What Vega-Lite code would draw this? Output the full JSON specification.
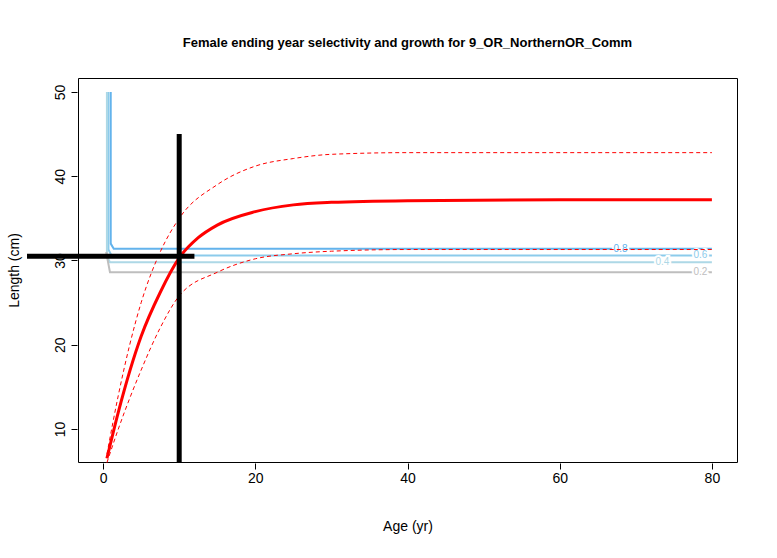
{
  "$schema": "https://vega.github.io/schema/vega-lite/v6.json",
  "width": 659,
  "height": 384,
  "autosize": "none",
  "padding": {"left": 78, "top": 78, "right": 40, "bottom": 96},
  "background": "white",
  "view": {"stroke": "black", "strokeWidth": 1},
  "config": {"font": "Liberation Sans"},
  "title": {"text": "Female ending year selectivity and growth for 9_OR_NorthernOR_Comm", "fontSize": 13, "fontWeight": "bold", "offset": 28, "anchor": "middle"},
  "datasets": {
    "growth": [
      {"age": 0.5, "len": 6.5, "s": "mid"}, {"age": 2, "len": 12, "s": "mid"}, {"age": 5, "len": 21, "s": "mid"},
      {"age": 7.5, "len": 26.2, "s": "mid"}, {"age": 10, "len": 30.3, "s": "mid"}, {"age": 12.5, "len": 32.7, "s": "mid"}, {"age": 15, "len": 34.2, "s": "mid"},
      {"age": 20, "len": 35.8, "s": "mid"}, {"age": 25, "len": 36.6, "s": "mid"}, {"age": 30, "len": 36.9, "s": "mid"},
      {"age": 40, "len": 37.1, "s": "mid"}, {"age": 60, "len": 37.2, "s": "mid"}, {"age": 80, "len": 37.2, "s": "mid"},
      {"age": 0.5, "len": 7, "s": "upper"}, {"age": 2, "len": 14, "s": "upper"}, {"age": 5, "len": 25, "s": "upper"},
      {"age": 7.5, "len": 31, "s": "upper"}, {"age": 10, "len": 35, "s": "upper"}, {"age": 15, "len": 39, "s": "upper"},
      {"age": 20, "len": 41.2, "s": "upper"}, {"age": 25, "len": 42.1, "s": "upper"}, {"age": 30, "len": 42.6, "s": "upper"},
      {"age": 40, "len": 42.8, "s": "upper"}, {"age": 80, "len": 42.8, "s": "upper"},
      {"age": 0.5, "len": 6, "s": "lower"}, {"age": 2, "len": 10, "s": "lower"}, {"age": 5, "len": 17, "s": "lower"},
      {"age": 7.5, "len": 22, "s": "lower"}, {"age": 10, "len": 25.8, "s": "lower"}, {"age": 15, "len": 28.6, "s": "lower"},
      {"age": 20, "len": 30.2, "s": "lower"}, {"age": 25, "len": 30.8, "s": "lower"}, {"age": 30, "len": 31.1, "s": "lower"},
      {"age": 40, "len": 31.3, "s": "lower"}, {"age": 80, "len": 31.3, "s": "lower"}
    ],
    "contours": [
      {"age": 1, "len": 50, "lvl": "0.8", "o": 1}, {"age": 1, "len": 32, "lvl": "0.8", "o": 2}, {"age": 1.4, "len": 31.4, "lvl": "0.8", "o": 3}, {"age": 80, "len": 31.4, "lvl": "0.8", "o": 4},
      {"age": 0.7, "len": 50, "lvl": "0.6", "o": 1}, {"age": 0.7, "len": 31.3, "lvl": "0.6", "o": 2}, {"age": 1.1, "len": 30.6, "lvl": "0.6", "o": 3}, {"age": 80, "len": 30.6, "lvl": "0.6", "o": 4},
      {"age": 0.5, "len": 50, "lvl": "0.4", "o": 1}, {"age": 0.5, "len": 30.5, "lvl": "0.4", "o": 2}, {"age": 0.9, "len": 29.8, "lvl": "0.4", "o": 3}, {"age": 80, "len": 29.8, "lvl": "0.4", "o": 4},
      {"age": 0.4, "len": 31, "lvl": "0.2", "o": 1}, {"age": 0.9, "len": 28.6, "lvl": "0.2", "o": 2}, {"age": 80, "len": 28.6, "lvl": "0.2", "o": 3}
    ],
    "labels": [
      {"age": 68, "len": 31.4, "lvl": "0.8"}, {"age": 78.5, "len": 30.6, "lvl": "0.6"},
      {"age": 73.5, "len": 29.8, "lvl": "0.4"}, {"age": 78.5, "len": 28.6, "lvl": "0.2"}
    ],
    "cross": [
      {"age": 10, "len": 6, "k": "v"}, {"age": 10, "len": 45, "k": "v"},
      {"age": -10, "len": 30.5, "k": "h"}, {"age": 12, "len": 30.5, "k": "h"}
    ]
  },
  "encoding": {
    "x": {"field": "age", "type": "quantitative", "scale": {"domain": [-3.3, 83.3], "nice": false, "zero": false},
      "axis": {"title": "Age (yr)", "values": [0, 20, 40, 60, 80], "grid": false, "domain": false, "tickColor": "black", "tickSize": 6, "labelFontSize": 14, "labelColor": "black", "titleFontSize": 14, "titleFontWeight": "normal", "titlePadding": 34, "offset": 1}},
    "y": {"field": "len", "type": "quantitative", "scale": {"domain": [6.08, 51.66], "nice": false, "zero": false},
      "axis": {"title": "Length (cm)", "values": [10, 20, 30, 40, 50], "grid": false, "domain": false, "tickColor": "black", "tickSize": 6, "labelFontSize": 14, "labelColor": "black", "labelAngle": -90, "labelAlign": "center", "labelBaseline": "bottom", "labelPadding": 4, "titleFontSize": 14, "titleFontWeight": "normal", "titlePadding": 32, "offset": 1}}
  },
  "layer": [
    {"data": {"name": "contours"}, "mark": {"type": "line", "clip": true, "strokeWidth": 2},
      "encoding": {"detail": {"field": "lvl"}, "order": {"field": "o"},
        "color": {"field": "lvl", "type": "nominal", "scale": {"domain": ["0.2", "0.4", "0.6", "0.8"], "range": ["#BEBEBE", "#ADD8E6", "#8CCBEB", "#63B3EC"]}, "legend": null}}},
    {"data": {"name": "labels"}, "mark": {"type": "text", "fontSize": 10, "stroke": "white", "strokeWidth": 4},
      "encoding": {"text": {"field": "lvl"}}},
    {"data": {"name": "labels"}, "mark": {"type": "text", "fontSize": 10},
      "encoding": {"text": {"field": "lvl"},
        "color": {"field": "lvl", "type": "nominal", "legend": null}}},
    {"data": {"name": "growth"}, "transform": [{"filter": "datum.s !== 'mid'"}], "mark": {"type": "line", "color": "red", "strokeWidth": 1, "strokeDash": [4, 3], "interpolate": "monotone"},
      "encoding": {"detail": {"field": "s"}}},
    {"data": {"name": "growth"}, "transform": [{"filter": "datum.s === 'mid'"}], "mark": {"type": "line", "color": "red", "strokeWidth": 3, "interpolate": "monotone"}},
    {"data": {"name": "cross"}, "mark": {"type": "line", "color": "black", "strokeWidth": 5, "clip": false},
      "encoding": {"detail": {"field": "k"}}}
  ]
}
